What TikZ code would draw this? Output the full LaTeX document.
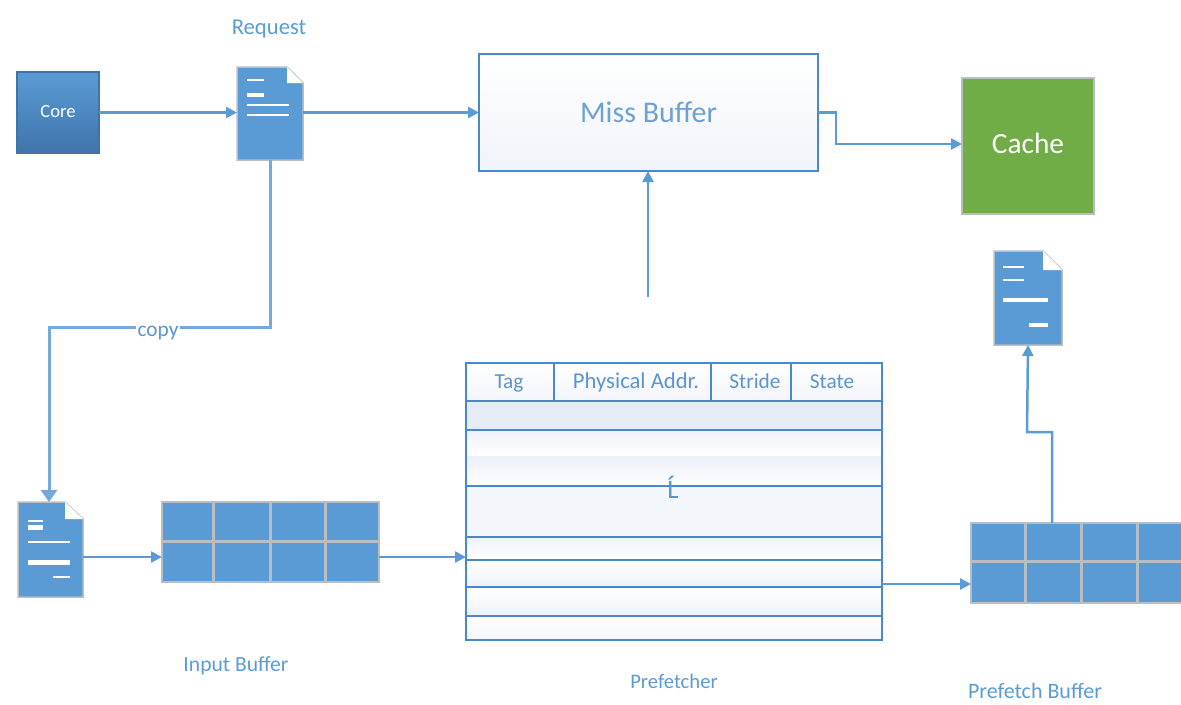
\documentclass[tikz,border=0pt]{standalone}
\usepackage{fontspec}
\setmainfont{Carlito}
\usetikzlibrary{arrows.meta}
\definecolor{bl}{HTML}{5B9BD5}
\definecolor{bld}{HTML}{4A89C8}
\definecolor{gr}{HTML}{70AD47}
\definecolor{edge}{HTML}{B8BEC4}
\definecolor{pale}{HTML}{E6ECF6}
\def\px{0.75pt}
\tikzset{
  x=0.75pt,y=-0.75pt,
  conn/.style={draw=bl,line width=2.5*\px,-{Triangle[length=11*\px,width=11*\px]}},
  connthick/.style={draw=bl!85,line width=3*\px,-{Triangle[length=12*\px,width=16*\px]}},
  anchorbox/.style={inner sep=0pt,outer sep=0pt,rectangle},
  lbl/.style={text=bl,inner sep=0pt,text height=1.4ex,text depth=0.3ex},
  cell/.style={text=bld!90,inner sep=0pt,text height=1.4ex,text depth=0.3ex,font=\fontsize{16}{18}\selectfont},
  docshape/.style={fill=bl,draw=edge,line width=1.5*\px},
  docline/.style={draw=white,line cap=butt},
  gridline/.style={draw=edge,line width=3*\px},
  tline/.style={draw=bld,line width=2*\px},
}
\begin{document}
\begin{tikzpicture}
\clip (0,0) rectangle (1181,704);
% Core
\node[anchorbox,draw=bld!85!black,line width=1.5*\px,top color=bl,bottom color=bld!85!black,
  minimum width=82*\px,minimum height=81*\px,text=white,font=\fontsize{14}{16}\selectfont] (core) at (58,112.5) {\raisebox{2pt}{Core}};
% Request document
\fill[docshape] (237,67) -- (287,67) -- (303,83) -- (303,160) -- (237,160) -- cycle;
\fill[white] (287,67) -- (303,83) -- (287,83) -- cycle;
\node[anchorbox,minimum width=66*\px,minimum height=93*\px] (req) at (270,113.5) {};
\draw[docline,line width=1.5*\px] (247,80) -- (264,80);
\draw[docline,line width=4*\px] (247,95) -- (264,95);
\draw[docline,line width=2*\px] (247,105) -- (289,105);
\draw[docline,line width=2*\px] (247,115) -- (289,115);
\node[lbl,font=\fontsize{17}{18}\selectfont] (reqlbl) at (269,31) {Request};
% Miss buffer
\node[anchorbox,draw=bld,line width=2*\px,top color=white,bottom color=pale!60,
  minimum width=339*\px,minimum height=117*\px,text=bld!80,font=\fontsize{22.5}{24}\selectfont] (miss) at (648.5,112.5) {Miss Buffer};
% Cache
\node[anchorbox,fill=gr,draw=edge,line width=1.5*\px,minimum width=132*\px,minimum height=136*\px,
  text=white,font=\fontsize{22}{24}\selectfont] (cache) at (1028,146) {\raisebox{4.5pt}{Cache}};
% Upper right document
\fill[docshape] (994,251) -- (1043,251) -- (1062,270) -- (1062,345) -- (994,345) -- cycle;
\fill[white] (1043,251) -- (1062,270) -- (1043,270) -- cycle;
\node[anchorbox,minimum width=68*\px,minimum height=94*\px] (docout) at (1028,298) {};
\draw[docline,line width=1.5*\px] (1003,267) -- (1024,267);
\draw[docline,line width=1.5*\px] (1003,280) -- (1024,280);
\draw[docline,line width=4*\px] (1003,300) -- (1048,300);
\draw[docline,line width=4*\px] (1029,325) -- (1048,325);
% Lower left document
\fill[docshape] (18,502) -- (65,502) -- (83,519) -- (83,597) -- (18,597) -- cycle;
\fill[white] (65,502) -- (83,519) -- (65,519) -- cycle;
\node[anchorbox,minimum width=65*\px,minimum height=95*\px] (docin) at (50.5,549.5) {};
\draw[docline,line width=2*\px] (28,521) -- (43,521);
\draw[docline,line width=5*\px] (28,527) -- (43,527);
\draw[docline,line width=2.5*\px] (28,542) -- (70,542);
\draw[docline,line width=5*\px] (28,562) -- (70,562);
\draw[docline,line width=2*\px] (53,577) -- (70,577);
% Input buffer
\node[anchorbox,fill=bl,draw=edge,line width=2.5*\px,minimum width=217*\px,minimum height=80*\px] (inbuf) at (270.5,542) {};
\draw[gridline] (213,502) -- (213,582) (270,502) -- (270,582) (325,502) -- (325,582) (162,541) -- (379,541);
\node[lbl,font=\fontsize{16.2}{18}\selectfont] (inlbl) at (236,668) {Input Buffer};
% Prefetch buffer
\node[anchorbox,fill=bl,draw=edge,line width=2.5*\px,minimum width=222*\px,minimum height=80*\px] (pfbuf) at (1082,563) {};
\draw[gridline] (1025,523) -- (1025,603) (1081,523) -- (1081,603) (1137,523) -- (1137,603) (971,561) -- (1193,561);
\node[lbl,font=\fontsize{16.5}{18}\selectfont] (pflbl) at (1035,695) {Prefetch Buffer};
% Prefetcher table
\shade[top color=white,bottom color=pale!55] (466,363) rectangle (882,401);
\fill[pale] (466,401) rectangle (882,430);
\shade[top color=pale!70,bottom color=white] (466,430) rectangle (882,456);
\shade[top color=pale!80,bottom color=white] (466,456) rectangle (882,486);
\fill[pale!50] (466,486) rectangle (882,537);
\shade[top color=pale!70,bottom color=white] (466,537) rectangle (882,560);
\shade[top color=white,bottom color=pale!70] (466,560) rectangle (882,587);
\shade[top color=white,bottom color=pale!70] (466,587) rectangle (882,616);
\shade[top color=white,bottom color=pale!50] (466,616) rectangle (882,640);
\node[anchorbox,draw=bld,line width=2.5*\px,minimum width=416*\px,minimum height=277*\px] (tbl) at (674,501.5) {};
\draw[tline] (466,401) -- (882,401) (466,430) -- (882,430) (466,486) -- (882,486) (466,537) -- (882,537)
  (466,560) -- (882,560) (466,587) -- (882,587) (466,616) -- (882,616);
\draw[tline] (554,363) -- (554,401) (711,363) -- (711,401) (791,363) -- (791,401);
\node[cell] (ctag) at (509,385) {Tag};
\node[cell,font=\fontsize{17}{18}\selectfont] (cpa) at (636,385) {Physical Addr.};
\node[cell] (cst) at (755,385) {Stride};
\node[cell] (csa) at (832,385) {State};
\node[cell,font=\fontsize{20}{22}\selectfont] (cdots) at (673,495) {Ĺ};
\node[lbl,font=\fontsize{15.5}{18}\selectfont] (pflabel) at (674,685) {Prefetcher};
% Connectors
\coordinate (reqb) at (270,160);
\coordinate (missin) at (648,297);
\coordinate (pfup) at (1052,523);
\draw[conn] (core.east) -- (core.east -| req.west);
\draw[conn] (req.east |- core.east) -- (core.east -| miss.west);
\draw[conn] (miss.east |- core.east) -- ++(18,0) |- (cache.west |- 0,144);
\draw[conn] (missin) -- (missin |- miss.south);
\draw[connthick] (reqb) -- (270,327) -- (49,327) -- (49,502);
\node[text=bld!90,fill=white,inner sep=1pt,font=\fontsize{16}{17}\selectfont] (copy) at (158,333) {copy};
\draw[conn] (docin.east |- 0,557) -- (inbuf.west |- 0,557);
\draw[conn] (inbuf.east |- 0,557) -- (tbl.west |- 0,557);
\draw[conn] (tbl.east |- 0,584) -- (pfbuf.west |- 0,584);
\draw[conn] (pfup) -- (1052,432) -- (1027,432) -- (docout.south);
\end{tikzpicture}
\end{document}
